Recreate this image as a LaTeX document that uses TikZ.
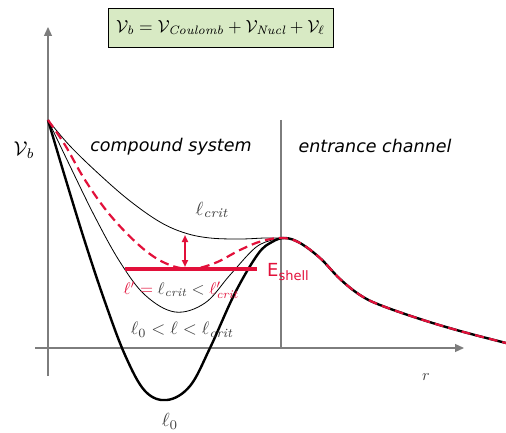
\documentclass[tikz,border=0pt]{standalone}
\usepackage{fontspec}
\setsansfont{DejaVu Sans}
\usetikzlibrary{arrows.meta}
\definecolor{crim}{RGB}{226,16,58}
\definecolor{axisgray}{RGB}{125,125,125}
\definecolor{boxgreen}{RGB}{216,234,196}
\newcommand{\sclmath}[2]{\scalebox{#1}{$#2$}}
\tikzset{
  axisline/.style={draw=axisgray,line width=1.2pt},
  thincurve/.style={draw=black,line width=0.8pt},
  thickcurve/.style={draw=black,line width=2.4pt},
  reddash/.style={draw=crim,line width=2.2pt,dash pattern=on 9pt off 5pt},
  lbl/.style={inner sep=0pt},
  region/.style={inner sep=0pt,font=\sffamily\itshape\fontsize{17.5}{20}\selectfont}
}
\begin{document}
\begin{tikzpicture}[x=1pt,y=-1pt]
\useasboundingbox (0,0) rectangle (506,433);
% formula box
\node[draw=black,line width=0.8pt,fill=boxgreen,minimum width=225pt,minimum height=39pt,inner sep=0pt] (formula) at (220.5,27.5)
 {\sclmath{1.75}{\mathcal{V}_{\mathit{b}} = \mathcal{V}_{\mathit{Coulomb}} + \mathcal{V}_{\mathit{Nucl}} + \mathcal{V}_{\ell}}};
% axes
\coordinate (yb) at (48,376);
\coordinate (yt) at (48,27);
\coordinate (xl) at (35,348);
\coordinate (xr) at (464,348);
\draw[axisline,-{Triangle[length=9pt,width=8pt]},] (yb) -- (yt);
\draw[axisline,-{Triangle[length=9pt,width=8pt]}] (xl) -- (xr);
\coordinate (dt) at (281,120);
\coordinate (db) at (281,348);
\draw[axisline] (dt) -- (db);
% curves
\path[thincurve] plot[smooth,tension=0.6] coordinates {(48,120) (70,146) (100,175) (130,201) (160,222) (185,233) (210,238) (240,239) (265,238) (283,238)};
\path[thincurve] plot[smooth,tension=0.6] coordinates {(48,120) (70,166) (95,217) (120,262) (145,295) (175,312) (205,303) (230,275) (255,248) (272,240) (283,238)};
\path[thickcurve] plot[smooth,tension=0.6] coordinates {(48,120) (65,177) (85,242) (105,302) (125,355) (145,391) (167,400) (190,386) (210,348) (235,293) (258,254) (272,242) (285,238) (300,243) (320,258) (340,279) (360,295) (380,305) (420,319) (460,331) (506,343)};
\path[reddash] plot[smooth,tension=0.6] coordinates {(48,120) (65,145) (85,180) (110,215) (140,246) (165,263) (190,269) (215,263) (240,250) (262,241) (283,238) (300,243) (320,258) (340,279) (360,295) (380,305) (420,319) (460,331) (506,343)};
% E shell line and arrow
\coordinate (el) at (125,269);
\coordinate (er) at (257,269);
\draw[crim,line width=3.2pt] (el) -- (er);
\coordinate (at) at (185,235);
\coordinate (ab) at (185,267);
\draw[crim,line width=1.8pt,{Triangle[length=7pt,width=6pt]}-{Triangle[length=7pt,width=6pt]}] (at) -- (ab);
% labels
\node[lbl] (vb) at (24,150) {\sclmath{2}{\mathcal{V}_{\mathit{b}}}};
\node[region] (comp) at (171,147) {compound system};
\node[region] (entr) at (375,146) {entrance channel};
\node[lbl,text=black!75] (lcrit) at (212,210) {\sclmath{1.9}{\ell_{\mathit{crit}}}};
\node[inner sep=0pt,anchor=west,text=crim,font=\sffamily\fontsize{18}{20}\selectfont] (esh) at (267,272) {E\textsubscript{\fontsize{13}{14}\selectfont shell}};
\node[lbl] (lprime) at (181,290) {\sclmath{1.68}{\color{crim}\ell' =\color{black!75} \ell_{\mathit{crit}} < \color{crim}\ell'_{\mathit{crit}}}};
\node[lbl,text=black!75] (lmid) at (182,330) {\sclmath{1.8}{\ell_0 < \ell < \ell_{\mathit{crit}}}};
\node[lbl,text=black!75] (lzero) at (170,421) {\sclmath{1.9}{\ell_0}};
\node[lbl,text=black!75] (rr) at (426,377) {\sclmath{1.6}{r}};
\end{tikzpicture}
\end{document}
